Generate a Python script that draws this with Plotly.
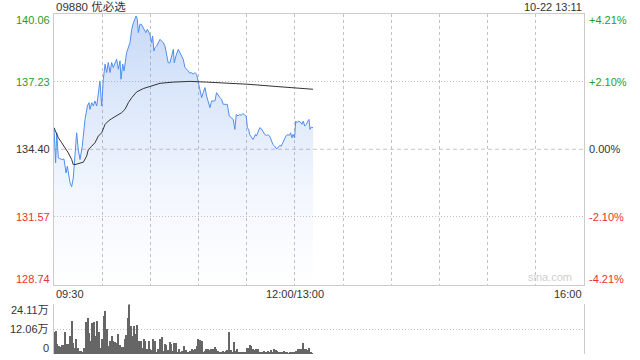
import plotly.graph_objects as go

# ---------------- data ----------------
title_text = "09880 优必选"
stamp_text = "10-22 13:11"
time_labels = ["09:30", "12:00/13:00", "16:00"]
time_label_pos = [0, 150, 330]          # trading minutes since 09:30
grid_minutes = [30, 60, 90, 120, 150, 180, 210, 240, 270, 300]

price_levels = [140.06, 137.23, 134.40, 131.57, 128.74]
price_labels = ["140.06", "137.23", "134.40", "131.57", "128.74"]
pct_labels = ["+4.21%", "+2.10%", "0.00%", "-2.10%", "-4.21%"]
prev_close = 134.40

vol_levels = [24.11, 12.06, 0]
vol_labels = ["24.11万", "12.06万", "0"]

price_t = [0, 1, 1.7, 2.7, 4.8, 6.2, 7.5, 8.3, 10.0, 11.0, 12.0, 13.1, 14.1, 15.1, 16.2,
           17.6, 18.3, 19.3, 20.8, 21.8, 22.4, 23.5, 24.5, 25.5, 26.6, 27.6, 28.6, 29.7,
           30.7, 31.8, 32.8, 33.8, 34.9, 35.9, 36.9, 39.0, 40.1, 41.1, 41.7, 42.8, 43.6,
           45.2, 47.3, 48.4, 49.5, 51.1, 51.9, 52.5, 53.5, 54.5, 56.0, 57.2, 58.1, 59.7,
           60.8, 61.4, 62.2, 62.8, 63.9, 64.9, 66.0, 67.0, 68.0, 69.1, 70.1, 71.1, 72.2,
           73.2, 74.3, 74.9, 75.9, 77.4, 78.4, 79.4, 80.5, 81.5, 82.6, 83.6, 84.6, 85.7,
           86.7, 87.7, 88.8, 89.8, 90.9, 91.9, 92.9, 94.0, 95.0, 96.0, 97.1, 98.1, 99.2,
           100.2, 101.2, 102.3, 103.3, 104.3, 105.4, 106.4, 107.9, 109.1, 110.6, 111.6,
           112.6, 113.5, 114.6, 115.6, 116.6, 117.7, 118.7, 119.7, 120.4, 121.2, 121.8,
           122.9, 123.9, 124.5, 125.4, 126.0, 127.0, 128.1, 129.1, 130.1, 131.2, 132.2,
           133.2, 134.3, 135.3, 136.3, 137.4, 138.4, 139.5, 140.5, 141.5, 142.6, 143.6,
           144.6, 145.7, 146.7, 147.3, 148.2, 148.8, 149.8, 150.5, 151.3, 152.3, 153.4,
           154.4, 155.2, 156.1, 157.1, 158.1, 158.8, 159.4, 160.2, 161.3]
price_v = [135.30, 133.83, 135.09, 134.04, 133.97, 133.99, 133.41, 133.69, 132.99, 132.83,
           133.20, 134.25, 135.09, 134.39, 133.97, 134.53, 135.09, 135.65, 136.21, 136.35,
           136.07, 136.35, 136.21, 136.42, 136.21, 136.77, 137.26, 136.21, 137.33, 137.96,
           137.61, 138.03, 137.61, 138.03, 137.82, 138.17, 137.75, 138.10, 137.33, 137.96,
           137.68, 138.44, 138.86, 139.42, 139.70, 139.98, 139.84, 139.28, 139.63, 139.62,
           139.42, 139.28, 139.42, 139.21, 138.86, 139.14, 138.51, 138.65, 138.72, 138.86,
           139.00, 138.93, 138.86, 138.72, 138.30, 138.02, 138.02, 138.30, 138.58, 138.02,
           138.30, 138.58, 138.44, 138.30, 138.16, 137.82, 137.75, 137.68, 137.58, 137.61,
           137.54, 137.61, 137.54, 137.26, 136.91, 136.56, 136.77, 136.98, 136.63, 136.42,
           136.14, 136.42, 136.42, 136.42, 136.77, 136.63, 136.56, 136.49, 136.28, 136.28,
           136.28, 135.79, 135.72, 135.65, 135.23, 135.86, 135.79, 135.86, 135.82, 135.90,
           135.82, 135.79, 135.30, 135.23, 135.02, 134.88, 134.81, 134.88, 135.02, 134.95,
           135.16, 135.30, 135.26, 135.16, 135.02, 134.98, 135.01, 134.95, 134.74, 134.60,
           134.53, 134.42, 134.46, 134.56, 134.53, 134.67, 134.81, 134.98, 135.01, 134.98,
           135.09, 134.88, 135.02, 134.88, 135.58, 135.51, 135.58, 135.54, 135.44, 135.58,
           135.37, 135.44, 135.58, 135.65, 135.23, 135.33, 135.30]

avg_t = [0, 2.7, 4.8, 6.8, 8.9, 11.0, 12.0, 13.1, 15.1, 18.3, 20.3, 21.4, 23.5, 25.5, 27.6,
         29.7, 31.8, 33.8, 35.9, 39.0, 42.1, 44.2, 46.3, 48.4, 51.5, 55.6, 59.8, 66.0, 74.3,
         84.6, 95.0, 112.7, 120.8, 139.5, 149.8, 161.3]
avg_v = [135.30, 134.88, 134.67, 134.46, 134.25, 133.97, 133.76, 133.76, 133.80, 133.86,
         134.11, 134.39, 134.53, 134.67, 134.95, 135.09, 135.44, 135.58, 135.68, 135.82,
         135.93, 136.07, 136.35, 136.56, 136.80, 136.94, 137.02, 137.16, 137.21, 137.24,
         137.21, 137.16, 137.12, 137.02, 136.96, 136.91]

# volume per minute, in 万 (10k shares)
volume = [10.3, 10.9, 4.6, 3.7, 3.3, 4.1, 4.3, 10.3, 4.6, 4.6, 8.6, 15.6, 4.9, 2.9, 7.3,
          2.8, 1.3, 1.0, 0.8, 2.6, 15.2, 17.1, 9.9, 6.2, 14.7, 15.2, 8.6, 15.6, 10.3, 2.9,
          7.3, 18.1, 20.5, 11.9, 3.7, 6.2, 8.3, 6.2, 5.7, 5.0, 9.5, 4.1, 3.4, 3.4, 7.3,
          9.0, 17.1, 24.11, 13.5, 8.6, 13.5, 9.5, 13.9, 6.2, 5.9, 2.9, 7.0, 5.9, 2.1, 5.9,
          2.4, 1.6, 7.0, 5.9, 0.8, 2.1, 7.0, 8.0, 1.3, 4.6, 4.1, 1.6, 5.4, 4.6, 1.3,
          4.9, 4.9, 0.8, 2.4, 0.3, 1.0, 3.6, 1.8, 0.8, 0.5, 1.1, 2.1, 1.6, 2.1, 3.6,
          7.0, 6.5, 6.2, 0.8, 1.3, 2.1, 2.1, 1.8, 2.1, 2.4, 3.3, 2.1, 1.3, 0.8, 0.5,
          1.0, 0.5, 1.1, 1.8, 10.3, 1.8, 0.8, 5.4, 1.3, 2.4, 0.8, 0.5, 0.8, 0.5, 0.8,
          2.6, 2.9, 4.1, 3.7, 2.1, 1.8, 2.1, 2.4, 0.4, 0.5, 0.8, 1.3, 0.8, 1.3, 0.5,
          1.8, 0.5, 2.1, 1.8, 1.3, 0.5, 0.8, 0.5, 1.0, 0.5, 0.8, 0.2, 0.5, 0.3, 0.5,
          0.8, 1.3, 2.4, 2.4, 2.1, 5.0, 2.1, 2.4, 1.8, 2.9, 0.5, 0.2]
vol_t = list(range(len(volume)))

# ---------------- style ----------------
FONT = "Liberation Sans, Arial, Noto Sans CJK SC, sans-serif"
GREEN = "#1f9e1f"
RED = "#e8312f"
DARK = "#333333"
GRID = "#c2c2c2"
BORDER = "#cccccc"
DOT = "1px,2px"
T_MAX = 330

y_hi, y_lo = price_levels[0], price_levels[-1]
label_colors = [GREEN, GREEN, DARK, RED, RED]
edge_shift = [-6, 0, 0, 0, 6]

fig = go.Figure()

fig.add_trace(go.Scatter(x=[price_t[0], price_t[-1]], y=[y_lo, y_lo], mode="lines",
                         line=dict(width=0, color="rgba(0,0,0,0)"), hoverinfo="skip",
                         showlegend=False))
fig.add_trace(go.Scatter(
    x=price_t, y=price_v, mode="lines", fill="tonexty",
    fillgradient=dict(type="vertical", start=y_lo, stop=y_hi,
                      colorscale=[[0, "rgba(70,130,230,0.0)"],
                                  [0.35, "rgba(70,130,230,0.07)"],
                                  [1, "rgba(70,130,230,0.30)"]]),
    line=dict(color="#4f8ef0", width=1), hoverinfo="skip", showlegend=False))
fig.add_trace(go.Scatter(x=avg_t, y=avg_v, mode="lines",
                         line=dict(color="#333333", width=1), hoverinfo="skip",
                         showlegend=False))
fig.add_trace(go.Bar(x=vol_t, y=volume, xaxis="x2", yaxis="y2", width=0.75,
                     marker=dict(color="#666666", line=dict(width=0)),
                     hoverinfo="skip", showlegend=False))

annotations = []
annotations.append(dict(text=title_text, xref="paper", yref="paper", x=0, y=1,
                        xanchor="left", yanchor="bottom", showarrow=False,
                        font=dict(size=11.5, color=DARK, family=FONT), yshift=-1))
annotations.append(dict(text=stamp_text, xref="paper", yref="paper", x=1, y=1,
                        xanchor="right", yanchor="bottom", showarrow=False,
                        font=dict(size=11, color=DARK, family=FONT), yshift=-1))
for lvl, lab, pct, col, sh in zip(price_levels, price_labels, pct_labels, label_colors, edge_shift):
    annotations.append(dict(text=lab, xref="paper", yref="y", x=0, y=lvl, xanchor="right",
                            yanchor="middle", xshift=-2, yshift=sh, showarrow=False,
                            font=dict(size=11, color=col, family=FONT)))
    annotations.append(dict(text=pct, xref="paper", yref="y", x=1, y=lvl, xanchor="left",
                            yanchor="middle", xshift=3, yshift=sh, showarrow=False,
                            font=dict(size=11, color=col, family=FONT)))
for pos, lab, anc in zip(time_label_pos, time_labels, ["left", "center", "right"]):
    annotations.append(dict(text=lab, xref="x", yref="y", x=pos, y=y_lo, xanchor=anc,
                            yanchor="middle", yshift=-9, showarrow=False,
                            font=dict(size=11, color=DARK, family=FONT)))
for lvl, lab, sh in zip(vol_levels, vol_labels, [-6, 0, 6]):
    annotations.append(dict(text=lab, xref="paper", yref="y2", x=0, y=lvl, xanchor="right",
                            yanchor="middle", xshift=-3, yshift=sh, showarrow=False,
                            font=dict(size=11, color=DARK, family=FONT)))
annotations.append(dict(text="sina.com", xref="paper", yref="y", x=1, y=y_lo,
                        xanchor="right", yanchor="bottom", xshift=-10, yshift=0,
                        showarrow=False, font=dict(size=11, color="#cfcfcf", family=FONT)))

fig.update_layout(
    width=640, height=360,
    margin=dict(l=54, r=56, t=14, b=6),
    paper_bgcolor="white", plot_bgcolor="white",
    showlegend=False, hovermode=False,
    font=dict(family=FONT, size=11, color=DARK),
    bargap=0,
    xaxis=dict(domain=[0, 1], range=[0, T_MAX], anchor="y", tickmode="array",
               tickvals=grid_minutes, ticktext=[""] * len(grid_minutes),
               showticklabels=False, ticks="", showgrid=True, gridcolor=GRID, griddash="dot",
               gridwidth=1, showline=True, mirror=True, linecolor=BORDER, linewidth=1,
               zeroline=False, fixedrange=True),
    yaxis=dict(domain=[0.2044, 1], range=[y_lo, y_hi], anchor="x",
               tickvals=[price_levels[1], price_levels[3]], showticklabels=False, ticks="",
               showgrid=True, gridcolor=GRID, griddash=DOT, gridwidth=1, showline=True,
               mirror=True, linecolor=BORDER, linewidth=1, zeroline=False, fixedrange=True),
    xaxis2=dict(domain=[0, 1], range=[0, T_MAX], anchor="y2", showticklabels=False,
                ticks="", showgrid=False, showline=False, zeroline=False, fixedrange=True),
    yaxis2=dict(domain=[0, 0.1456], range=[0, vol_levels[0]], anchor="x2",
                tickvals=vol_levels, showticklabels=False, ticks="", showgrid=True,
                gridcolor=GRID, griddash=DOT, gridwidth=1, showline=True, mirror=True,
                linecolor=BORDER, linewidth=1, zeroline=False, fixedrange=True),
    annotations=annotations,
    shapes=[dict(type="line", xref="x domain", x0=0, x1=1, yref="y", y0=prev_close,
                 y1=prev_close, line=dict(color="#c4c4c4", width=1, dash="4px,3px"),
                 layer="below")],
)

fig.write_html("out.html", config={"displayModeBar": False})
